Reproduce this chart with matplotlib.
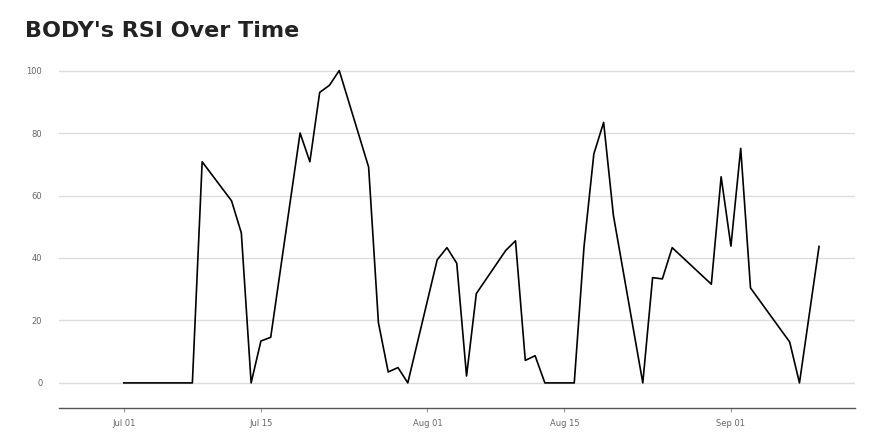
import numpy as np
import pandas as pd
import matplotlib
matplotlib.use("Agg")
import matplotlib.pyplot as plt
import matplotlib.dates as mdates

dates = pd.to_datetime([
    "2024-07-01", "2024-07-08", "2024-07-09", "2024-07-12", "2024-07-13",
    "2024-07-14", "2024-07-15", "2024-07-16", "2024-07-19", "2024-07-20",
    "2024-07-21", "2024-07-22", "2024-07-23", "2024-07-26", "2024-07-27",
    "2024-07-28", "2024-07-29", "2024-07-30", "2024-08-02", "2024-08-03",
    "2024-08-04", "2024-08-05", "2024-08-06", "2024-08-09", "2024-08-10",
    "2024-08-11", "2024-08-12", "2024-08-13", "2024-08-16", "2024-08-17",
    "2024-08-18", "2024-08-19", "2024-08-20", "2024-08-23", "2024-08-24",
    "2024-08-25", "2024-08-26", "2024-08-30", "2024-08-31", "2024-09-01",
    "2024-09-02", "2024-09-03", "2024-09-07", "2024-09-08", "2024-09-10",
])
rsi = [
    0, 0, 70.8, 58.3, 48.0,
    0, 13.4, 14.6, 80.0, 70.8,
    93.0, 95.3, 100.0, 69.1, 19.3,
    3.5, 4.9, 0, 39.4, 43.3,
    38.3, 2.2, 28.6, 42.4, 45.5,
    7.2, 8.7, 0, 0, 43.7,
    73.3, 83.4, 53.6, 0, 33.7,
    33.3, 43.3, 31.6, 66.0, 43.8,
    75.1, 30.4, 13.1, 0, 43.7,
]
yticks = [0, 20, 40, 60, 80, 100]
xticks = pd.to_datetime(["2024-07-01", "2024-07-15", "2024-08-01", "2024-08-15", "2024-09-01"])

fig = plt.figure(figsize=(8.8, 4.4), dpi=100)
ax = fig.add_axes([0.067, 0.073, 0.905, 0.795])

ax.plot(dates, rsi, color="black", linewidth=1.2)

ax.set_ylim(-8, 104)
ax.set_xlim(pd.Timestamp("2024-06-24 09:00"), pd.Timestamp("2024-09-13 17:00"))
ax.set_yticks(yticks)
ax.set_xticks(xticks)
ax.xaxis.set_major_formatter(mdates.DateFormatter("%b %d"))

ax.grid(axis="y", color="#dddddd", linewidth=1)
ax.set_axisbelow(True)
for s in ["top", "right", "left"]:
    ax.spines[s].set_visible(False)
ax.spines["bottom"].set_color("#555555")
ax.spines["bottom"].set_linewidth(1)

ax.tick_params(axis="y", length=0, pad=12, labelsize=6, labelcolor="#666666")
ax.tick_params(axis="x", length=3, width=0.8, color="#999999", pad=5,
               labelsize=6, labelcolor="#666666")

fig.text(0.028, 0.93, "BODY's RSI Over Time", fontsize=16, fontweight="bold",
         color="#222222", va="center", ha="left")

fig.savefig("out.png", dpi=100)
